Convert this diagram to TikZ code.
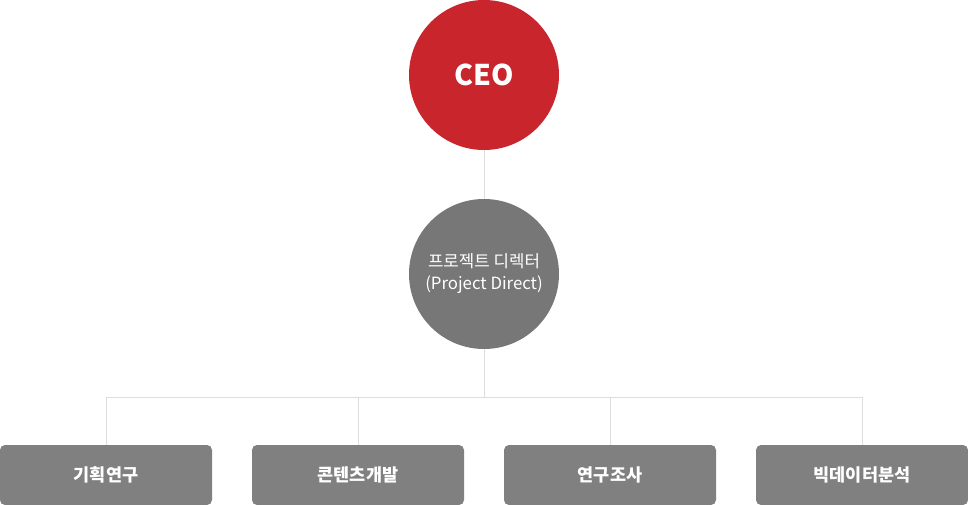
\documentclass[tikz,border=0pt]{standalone}
\usepackage{fontspec}
\setmainfont{Noto Sans CJK KR}
\definecolor{ceored}{HTML}{C8252C}
\definecolor{pdgray}{HTML}{777777}
\definecolor{boxgray}{HTML}{808080}
\definecolor{linegray}{HTML}{DDDDDD}
\begin{document}
\begin{tikzpicture}[x=1pt,y=-1pt,
  circ/.style={circle,minimum size=150pt,inner sep=0pt,text=white,align=center},
  deptbox/.style={rectangle,rounded corners=5pt,fill=boxgray,minimum width=212pt,minimum height=60pt,inner sep=0pt,text=white,font=\fontsize{17.5}{17.5}\selectfont\bfseries},
  conn/.style={draw=linegray,line width=1pt}]
\useasboundingbox (0,0) rectangle (968,505);
\node[circ,fill=ceored,font=\fontsize{28.5}{28.5}\selectfont\bfseries] (ceo) at (484,75) {CEO};
\node[circ,fill=pdgray,font=\fontsize{16.8}{22}\selectfont] (pd) at (484,274) {프로젝트 디렉터\\(Project Direct)};
\node[deptbox] (d1) at (106,475) {기획연구};
\node[deptbox] (d2) at (358,475) {콘텐츠개발};
\node[deptbox] (d3) at (610,475) {연구조사};
\node[deptbox] (d4) at (862,475) {빅데이터분석};
\coordinate (bus) at (484,397);
\draw[conn] (ceo.south) -- (pd.north);
\draw[conn] (pd.south) -- (bus);
\draw[conn] (d1.north) -- (d1.north |- bus) -- (d4.north |- bus) -- (d4.north);
\draw[conn] (d2.north) -- (d2.north |- bus);
\draw[conn] (d3.north) -- (d3.north |- bus);
\end{tikzpicture}
\end{document}
